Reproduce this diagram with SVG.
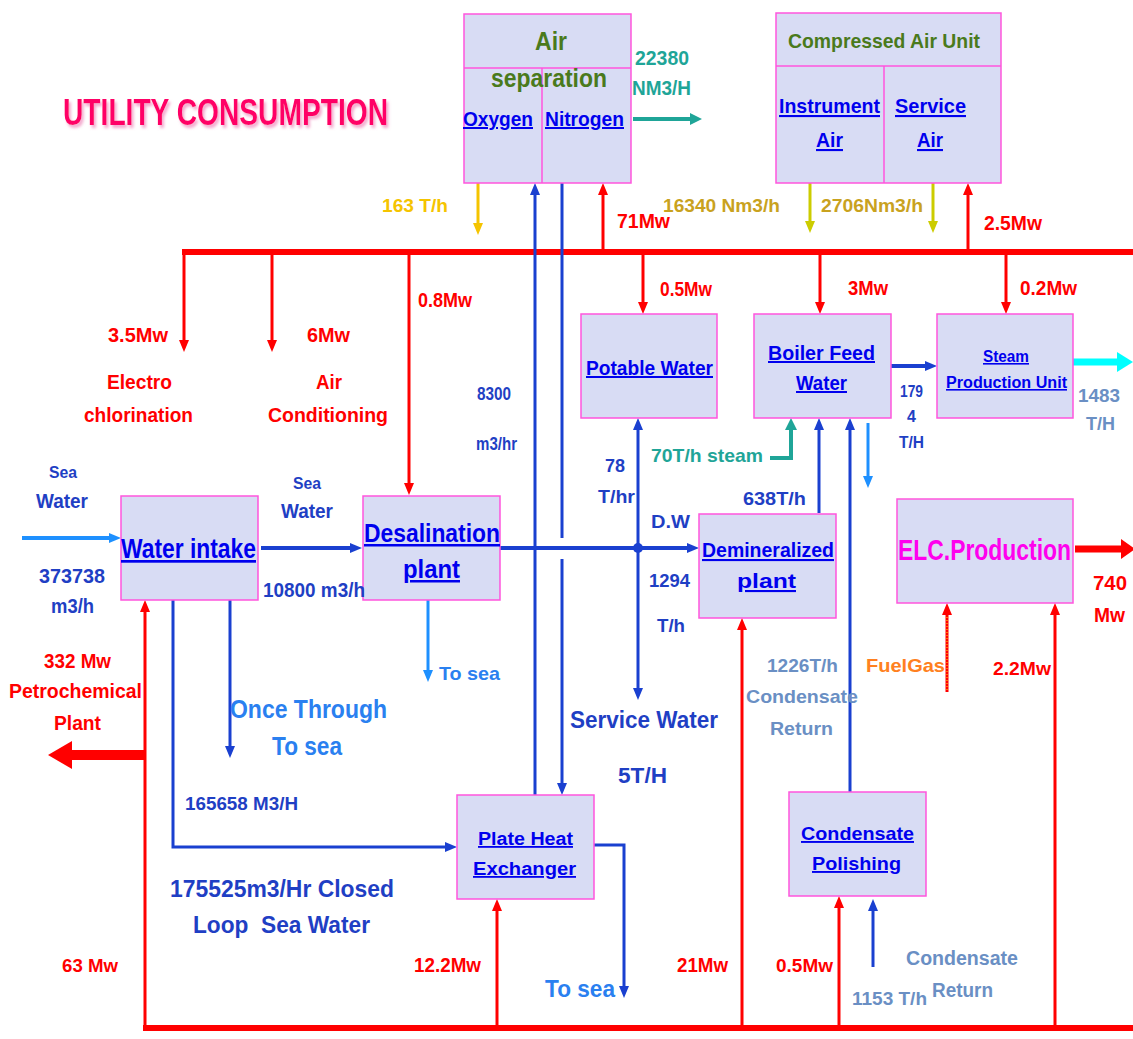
<svg xmlns="http://www.w3.org/2000/svg" width="1133" height="1039" viewBox="0 0 1133 1039">
<defs>
<style>
.t{font-family:"Liberation Sans",Arial,Helvetica,sans-serif;font-weight:bold}
.red{fill:#ff0000}
.blu{fill:#1f3fc4}
.lb{fill:#2a80f0}
.lnk{fill:#0000ee;text-decoration:underline}
.grn{fill:#4a7a1c}
.stl{fill:#6a8fc4}
.teal{fill:#1fa598}
.gold{fill:#c9a21e}
.box{fill:#d8dcf4;stroke:#ff55dd;stroke-width:1.5}
.div{stroke:#ff55dd;stroke-width:1.5;fill:none}
.bus{stroke:#ff0000;stroke-width:6;fill:none}
.rl{stroke:#ff0000;stroke-width:3;fill:none}
.bl{stroke:#1a40d0;stroke-width:3;fill:none}
.bl4{stroke:#1a40d0;stroke-width:4;fill:none}
.ll{stroke:#1e90ff;stroke-width:3;fill:none}
.yl{stroke:#f5c400;stroke-width:3;fill:none}
.ol{stroke:#cccc00;stroke-width:3;fill:none}
.tl{stroke:#1fa598;stroke-width:4;fill:none}
</style>
<marker id="aR" viewBox="0 0 12 10" markerWidth="12" markerHeight="10" refX="1" refY="5" orient="auto" markerUnits="userSpaceOnUse"><path d="M0,0L12,5L0,10z" fill="#ff0000"/></marker>
<marker id="aB" viewBox="0 0 12 10" markerWidth="12" markerHeight="10" refX="1" refY="5" orient="auto-start-reverse" markerUnits="userSpaceOnUse"><path d="M0,0L12,5L0,10z" fill="#1a40d0"/></marker>
<marker id="aL" viewBox="0 0 12 10" markerWidth="12" markerHeight="10" refX="1" refY="5" orient="auto" markerUnits="userSpaceOnUse"><path d="M0,0L12,5L0,10z" fill="#1e90ff"/></marker>
<marker id="aY" viewBox="0 0 12 10" markerWidth="12" markerHeight="10" refX="1" refY="5" orient="auto" markerUnits="userSpaceOnUse"><path d="M0,0L12,5L0,10z" fill="#f5c400"/></marker>
<marker id="aO" viewBox="0 0 12 10" markerWidth="12" markerHeight="10" refX="1" refY="5" orient="auto" markerUnits="userSpaceOnUse"><path d="M0,0L12,5L0,10z" fill="#cccc00"/></marker>
<marker id="aT" viewBox="0 0 12 12" markerWidth="12" markerHeight="12" refX="1" refY="6" orient="auto" markerUnits="userSpaceOnUse"><path d="M0,0L12,6L0,12z" fill="#1fa598"/></marker>
<marker id="aC" viewBox="0 0 16 20" markerWidth="16" markerHeight="20" refX="1" refY="10" orient="auto" markerUnits="userSpaceOnUse"><path d="M0,0L16,10L0,20z" fill="#00ffff"/></marker>
<marker id="aRB" viewBox="0 0 14 20" markerWidth="14" markerHeight="20" refX="1" refY="10" orient="auto" markerUnits="userSpaceOnUse"><path d="M0,0L14,10L0,20z" fill="#ff0000"/></marker>
<marker id="aRP" viewBox="0 0 24 28" markerWidth="24" markerHeight="28" refX="1" refY="14" orient="auto" markerUnits="userSpaceOnUse"><path d="M0,0L24,14L0,28z" fill="#ff0000"/></marker>
<filter id="sh" x="-5%" y="-20%" width="110%" height="150%"><feDropShadow dx="2" dy="3" stdDeviation="1.5" flood-color="#f090c0" flood-opacity="0.8"/></filter>
</defs>
<rect width="1133" height="1039" fill="#ffffff"/>

<g id="title"><text class="t" x="63" y="125" font-size="37" fill="#ff0066" textLength="325" lengthAdjust="spacingAndGlyphs" filter="url(#sh)">UTILITY CONSUMPTION</text></g>

<g id="connectors">
<path class="bus" d="M182,252H1133"/>
<path class="bus" d="M143,1028H1133"/>
<path class="rl" d="M184,252V341" marker-end="url(#aR)"/>
<path class="rl" d="M272,252V341" marker-end="url(#aR)"/>
<path class="rl" d="M409,252V484" marker-end="url(#aR)"/>
<path class="rl" d="M643,252V303" marker-end="url(#aR)"/>
<path class="rl" d="M820,252V303" marker-end="url(#aR)"/>
<path class="rl" d="M1006,252V303" marker-end="url(#aR)"/>
<path class="rl" d="M603,252V194" marker-end="url(#aR)"/>
<path class="rl" d="M968,252V194" marker-end="url(#aR)"/>
<path class="rl" d="M145,1028V611" marker-end="url(#aR)"/>
<path class="rl" d="M497,1028V910" marker-end="url(#aR)"/>
<path class="rl" d="M742,1028V629" marker-end="url(#aR)"/>
<path class="rl" d="M839,1028V907" marker-end="url(#aR)"/>
<path class="rl" d="M1055,1028V614" marker-end="url(#aR)"/>
<path class="rl" stroke-width="4" d="M947,692V614" marker-end="url(#aR)"/>
<path d="M947,690V616" stroke="#ffee00" stroke-width="1" stroke-dasharray="1,2" fill="none"/>
<path stroke="#ff0000" stroke-width="10" fill="none" d="M145,755H71" marker-end="url(#aRP)"/>
<path stroke="#ff0000" stroke-width="7" fill="none" d="M1075,549H1122" marker-end="url(#aRB)"/>
<path stroke="#1e90ff" stroke-width="4" fill="none" d="M22,538H110" marker-end="url(#aL)"/>
<path class="bl4" d="M261,548H351" marker-end="url(#aB)"/>
<path class="bl" d="M173,600V847H446" marker-end="url(#aB)"/>
<path class="bl" d="M230,600V747" marker-end="url(#aB)"/>
<path class="ll" d="M428,600V671" marker-end="url(#aL)"/>
<path class="bl4" d="M497,548H688" marker-end="url(#aB)"/>
<path class="bl" d="M638,429V689" marker-start="url(#aB)" marker-end="url(#aB)"/>
<circle cx="638" cy="548" r="5" fill="#1a40d0"/>
<path class="bl" d="M535,795V538M535,559V194" marker-end="url(#aB)"/>
<path class="bl" d="M562,183V538M562,559V784" marker-end="url(#aB)"/>
<path class="bl" d="M819,513V429" marker-end="url(#aB)"/>
<path class="bl" d="M850,792V429" marker-end="url(#aB)"/>
<path class="ll" d="M868,423V477" marker-end="url(#aL)"/>
<path class="bl4" d="M891,366H926" marker-end="url(#aB)"/>
<path stroke="#00ffff" stroke-width="7" fill="none" d="M1073,362H1118" marker-end="url(#aC)"/>
<path class="tl" d="M633,119H691" marker-end="url(#aT)"/>
<path class="tl" stroke-width="3" d="M770,458H791V429" marker-end="url(#aT)"/>
<path class="yl" d="M478,183V224" marker-end="url(#aY)"/>
<path class="ol" d="M810,183V222" marker-end="url(#aO)"/>
<path class="ol" d="M933,183V222" marker-end="url(#aO)"/>
<path class="bl" d="M594,845H624V987" marker-end="url(#aB)"/>
<path class="bl" d="M873,967V910" marker-end="url(#aB)"/>
</g>

<g id="air-separation">
<rect class="box" x="464" y="14" width="167" height="169"/>
<path class="div" d="M464,68H631M542,68V183"/>
<text class="t grn" x="535" y="50" font-size="25" textLength="32" lengthAdjust="spacingAndGlyphs">Air</text>
<text class="t grn" x="491" y="87" font-size="25" textLength="116" lengthAdjust="spacingAndGlyphs">separation</text>
<text class="t lnk" x="463" y="126" font-size="20" textLength="70" lengthAdjust="spacingAndGlyphs">Oxygen</text>
<text class="t lnk" x="545" y="126" font-size="20" textLength="79" lengthAdjust="spacingAndGlyphs">Nitrogen</text>
</g>

<g id="compressed-air">
<rect class="box" x="776" y="13" width="225" height="170"/>
<path class="div" d="M776,66H1001M884,66V183"/>
<text class="t grn" x="788" y="48" font-size="21" textLength="192" lengthAdjust="spacingAndGlyphs">Compressed Air Unit</text>
<text class="t lnk" x="779" y="113" font-size="21" textLength="101" lengthAdjust="spacingAndGlyphs">Instrument</text>
<text class="t lnk" x="816" y="147" font-size="21" textLength="27" lengthAdjust="spacingAndGlyphs">Air</text>
<text class="t lnk" x="895" y="113" font-size="21" textLength="71" lengthAdjust="spacingAndGlyphs">Service</text>
<text class="t lnk" x="917" y="147" font-size="21" textLength="26" lengthAdjust="spacingAndGlyphs">Air</text>
</g>

<g id="potable-water">
<rect class="box" x="581" y="314" width="136" height="104"/>
<text class="t lnk" x="586" y="375" font-size="20" textLength="127" lengthAdjust="spacingAndGlyphs">Potable Water</text>
</g>

<g id="boiler-feed-water">
<rect class="box" x="754" y="314" width="137" height="104"/>
<text class="t lnk" x="768" y="360" font-size="20" textLength="107" lengthAdjust="spacingAndGlyphs">Boiler Feed</text>
<text class="t lnk" x="796" y="390" font-size="20" textLength="51" lengthAdjust="spacingAndGlyphs">Water</text>
</g>

<g id="steam-production">
<rect class="box" x="937" y="314" width="136" height="104"/>
<text class="t lnk" x="983" y="362" font-size="16" textLength="46" lengthAdjust="spacingAndGlyphs">Steam</text>
<text class="t lnk" x="946" y="388" font-size="16" textLength="121" lengthAdjust="spacingAndGlyphs">Production Unit</text>
</g>

<g id="water-intake">
<rect class="box" x="121" y="496" width="137" height="104"/>
<text class="t lnk" x="121" y="558" font-size="27" textLength="135" lengthAdjust="spacingAndGlyphs">Water intake</text>
</g>

<g id="desalination">
<rect class="box" x="363" y="496" width="137" height="104"/>
<text class="t lnk" x="364" y="542" font-size="25" textLength="136" lengthAdjust="spacingAndGlyphs">Desalination</text>
<text class="t lnk" x="403" y="578" font-size="25" textLength="57" lengthAdjust="spacingAndGlyphs">plant</text>
</g>

<g id="demineralized">
<rect class="box" x="699" y="514" width="137" height="104"/>
<text class="t lnk" x="702" y="557" font-size="21" textLength="132" lengthAdjust="spacingAndGlyphs">Demineralized</text>
<text class="t lnk" x="737" y="588" font-size="21" textLength="59" lengthAdjust="spacingAndGlyphs">plant</text>
</g>

<g id="elc-production">
<rect class="box" x="897" y="499" width="176" height="104"/>
<text class="t" x="898" y="560" font-size="30" fill="#ff00ee" font-weight="normal" textLength="173" lengthAdjust="spacingAndGlyphs">ELC.Production</text>
</g>

<g id="plate-heat-exchanger">
<rect class="box" x="457" y="795" width="137" height="104"/>
<text class="t lnk" x="478" y="845" font-size="18" textLength="95" lengthAdjust="spacingAndGlyphs">Plate Heat</text>
<text class="t lnk" x="473" y="875" font-size="18" textLength="103" lengthAdjust="spacingAndGlyphs">Exchanger</text>
</g>

<g id="condensate-polishing">
<rect class="box" x="789" y="792" width="137" height="104"/>
<text class="t lnk" x="801" y="840" font-size="19" textLength="113" lengthAdjust="spacingAndGlyphs">Condensate</text>
<text class="t lnk" x="812" y="870" font-size="19" textLength="89" lengthAdjust="spacingAndGlyphs">Polishing</text>
</g>

<g id="labels">
<text class="t teal" x="635" y="65" font-size="20" textLength="54" lengthAdjust="spacingAndGlyphs">22380</text>
<text class="t teal" x="632" y="95" font-size="20" textLength="59" lengthAdjust="spacingAndGlyphs">NM3/H</text>
<text class="t" x="382" y="212" font-size="18" fill="#f5c400" textLength="66" lengthAdjust="spacingAndGlyphs">163 T/h</text>
<text class="t gold" x="663" y="212" font-size="18" textLength="117" lengthAdjust="spacingAndGlyphs">16340 Nm3/h</text>
<text class="t red" x="617" y="228" font-size="20" textLength="53" lengthAdjust="spacingAndGlyphs">71Mw</text>
<text class="t gold" x="821" y="212" font-size="18" textLength="102" lengthAdjust="spacingAndGlyphs">2706Nm3/h</text>
<text class="t red" x="984" y="230" font-size="20" textLength="58" lengthAdjust="spacingAndGlyphs">2.5Mw</text>
<text class="t red" x="108" y="342" font-size="20" textLength="60" lengthAdjust="spacingAndGlyphs">3.5Mw</text>
<text class="t red" x="107" y="389" font-size="20" textLength="65" lengthAdjust="spacingAndGlyphs">Electro</text>
<text class="t red" x="84" y="422" font-size="20" textLength="109" lengthAdjust="spacingAndGlyphs">chlorination</text>
<text class="t red" x="307" y="342" font-size="20" textLength="43" lengthAdjust="spacingAndGlyphs">6Mw</text>
<text class="t red" x="316" y="389" font-size="20" textLength="26" lengthAdjust="spacingAndGlyphs">Air</text>
<text class="t red" x="268" y="422" font-size="20" textLength="120" lengthAdjust="spacingAndGlyphs">Conditioning</text>
<text class="t red" x="418" y="307" font-size="20" textLength="54" lengthAdjust="spacingAndGlyphs">0.8Mw</text>
<text class="t red" x="660" y="296" font-size="20" textLength="52" lengthAdjust="spacingAndGlyphs">0.5Mw</text>
<text class="t red" x="848" y="295" font-size="20" textLength="40" lengthAdjust="spacingAndGlyphs">3Mw</text>
<text class="t red" x="1020" y="295" font-size="20" textLength="57" lengthAdjust="spacingAndGlyphs">0.2Mw</text>
<text class="t blu" x="477" y="400" font-size="18" textLength="34" lengthAdjust="spacingAndGlyphs">8300</text>
<text class="t blu" x="476" y="450" font-size="18" textLength="41" lengthAdjust="spacingAndGlyphs">m3/hr</text>
<text class="t blu" x="605" y="472" font-size="19" textLength="20" lengthAdjust="spacingAndGlyphs">78</text>
<text class="t blu" x="598" y="503" font-size="19" textLength="37" lengthAdjust="spacingAndGlyphs">T/hr</text>
<text class="t teal" x="651" y="462" font-size="19" textLength="112" lengthAdjust="spacingAndGlyphs">70T/h steam</text>
<text class="t blu" x="743" y="505" font-size="19" textLength="63" lengthAdjust="spacingAndGlyphs">638T/h</text>
<text class="t blu" x="651" y="528" font-size="19" textLength="39" lengthAdjust="spacingAndGlyphs">D.W</text>
<text class="t blu" x="649" y="587" font-size="19" textLength="41" lengthAdjust="spacingAndGlyphs">1294</text>
<text class="t blu" x="657" y="632" font-size="19" textLength="28" lengthAdjust="spacingAndGlyphs">T/h</text>
<text class="t blu" x="900" y="397" font-size="16" textLength="23" lengthAdjust="spacingAndGlyphs">179</text>
<text class="t blu" x="907" y="422" font-size="16">4</text>
<text class="t blu" x="899" y="448" font-size="16" textLength="25" lengthAdjust="spacingAndGlyphs">T/H</text>
<text class="t stl" x="1078" y="402" font-size="19" textLength="42" lengthAdjust="spacingAndGlyphs">1483</text>
<text class="t stl" x="1086" y="430" font-size="19" textLength="29" lengthAdjust="spacingAndGlyphs">T/H</text>
<text class="t blu" x="49" y="478" font-size="16" textLength="28" lengthAdjust="spacingAndGlyphs">Sea</text>
<text class="t blu" x="36" y="508" font-size="20" textLength="52" lengthAdjust="spacingAndGlyphs">Water</text>
<text class="t blu" x="39" y="583" font-size="21" textLength="66" lengthAdjust="spacingAndGlyphs">373738</text>
<text class="t blu" x="51" y="613" font-size="21" textLength="43" lengthAdjust="spacingAndGlyphs">m3/h</text>
<text class="t blu" x="293" y="489" font-size="16" textLength="28" lengthAdjust="spacingAndGlyphs">Sea</text>
<text class="t blu" x="281" y="518" font-size="20" textLength="52" lengthAdjust="spacingAndGlyphs">Water</text>
<text class="t blu" x="263" y="597" font-size="20" textLength="102" lengthAdjust="spacingAndGlyphs">10800 m3/h</text>
<text class="t red" x="44" y="668" font-size="21" textLength="67" lengthAdjust="spacingAndGlyphs">332 Mw</text>
<text class="t red" x="9" y="698" font-size="21" textLength="133" lengthAdjust="spacingAndGlyphs">Petrochemical</text>
<text class="t red" x="54" y="730" font-size="21" textLength="47" lengthAdjust="spacingAndGlyphs">Plant</text>
<text class="t lb" x="230" y="718" font-size="25" textLength="157" lengthAdjust="spacingAndGlyphs">Once Through</text>
<text class="t lb" x="272" y="755" font-size="25" textLength="70" lengthAdjust="spacingAndGlyphs">To sea</text>
<text class="t blu" x="185" y="810" font-size="18" textLength="113" lengthAdjust="spacingAndGlyphs">165658 M3/H</text>
<text class="t blu" x="170" y="897" font-size="24" textLength="224" lengthAdjust="spacingAndGlyphs">175525m3/Hr Closed</text>
<text class="t blu" x="193" y="933" font-size="24" textLength="177" lengthAdjust="spacingAndGlyphs" xml:space="preserve">Loop  Sea Water</text>
<text class="t red" x="62" y="972" font-size="19" textLength="56" lengthAdjust="spacingAndGlyphs">63 Mw</text>
<text class="t lb" x="439" y="680" font-size="19" textLength="61" lengthAdjust="spacingAndGlyphs">To sea</text>
<text class="t blu" x="570" y="728" font-size="24" textLength="148" lengthAdjust="spacingAndGlyphs">Service Water</text>
<text class="t blu" x="618" y="783" font-size="22" textLength="49" lengthAdjust="spacingAndGlyphs">5T/H</text>
<text class="t lb" x="545" y="997" font-size="24" textLength="70" lengthAdjust="spacingAndGlyphs">To sea</text>
<text class="t red" x="414" y="972" font-size="20" textLength="67" lengthAdjust="spacingAndGlyphs">12.2Mw</text>
<text class="t red" x="677" y="972" font-size="20" textLength="51" lengthAdjust="spacingAndGlyphs">21Mw</text>
<text class="t red" x="1093" y="590" font-size="21" textLength="34" lengthAdjust="spacingAndGlyphs">740</text>
<text class="t red" x="1094" y="622" font-size="21" textLength="31" lengthAdjust="spacingAndGlyphs">Mw</text>
<text class="t stl" x="767" y="672" font-size="19" textLength="71" lengthAdjust="spacingAndGlyphs">1226T/h</text>
<text class="t stl" x="746" y="703" font-size="19" textLength="112" lengthAdjust="spacingAndGlyphs">Condensate</text>
<text class="t stl" x="770" y="735" font-size="19" textLength="63" lengthAdjust="spacingAndGlyphs">Return</text>
<text class="t" x="866" y="672" font-size="19" fill="#ff8020" textLength="79" lengthAdjust="spacingAndGlyphs">FuelGas</text>
<text class="t red" x="993" y="675" font-size="19" textLength="58" lengthAdjust="spacingAndGlyphs">2.2Mw</text>
<text class="t red" x="776" y="972" font-size="19" textLength="57" lengthAdjust="spacingAndGlyphs">0.5Mw</text>
<text class="t stl" x="852" y="1005" font-size="19" textLength="75" lengthAdjust="spacingAndGlyphs">1153 T/h</text>
<text class="t stl" x="906" y="965" font-size="20" textLength="112" lengthAdjust="spacingAndGlyphs">Condensate</text>
<text class="t stl" x="932" y="997" font-size="20" textLength="61" lengthAdjust="spacingAndGlyphs">Return</text>
</g>
</svg>
